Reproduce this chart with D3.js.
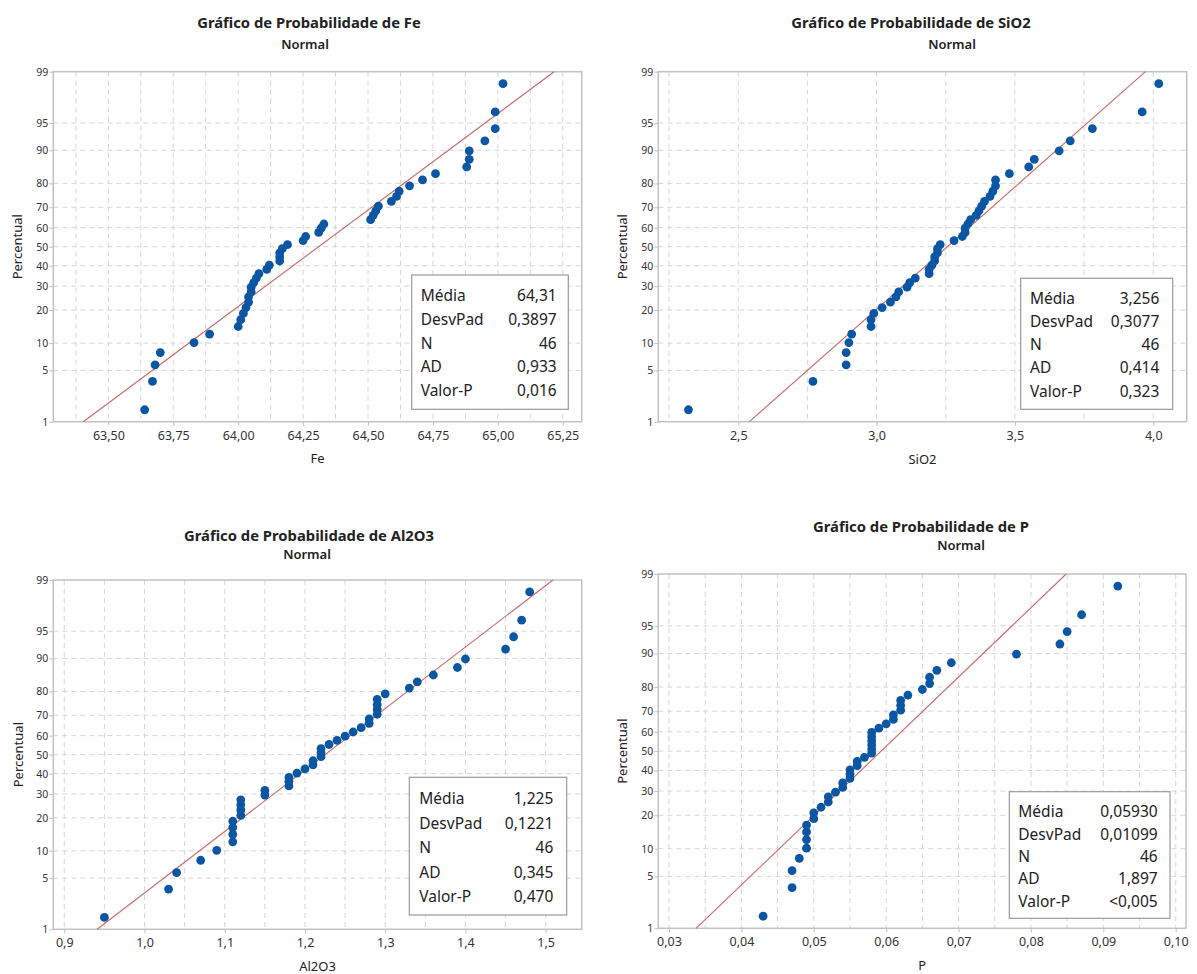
<!DOCTYPE html>
<html>
<head>
<meta charset="utf-8">
<script src="https://cdn.jsdelivr.net/npm/d3@7"></script>
<style>
  body { margin: 0; background: #fff; }
  svg { display: block; font-family: "Noto Sans", "Open Sans", sans-serif; }
</style>
</head>
<body>
<svg id="chart" width="1197" height="974"></svg>
<script>
// percent ticks of the normal probability axis
const pctTicks = [1, 5, 10, 20, 30, 40, 50, 60, 70, 80, 90, 95, 99];

const feValues = [63.64, 63.67, 63.68, 63.70, 63.83, 63.89, 64.00, 64.01, 64.02, 64.03,
  64.04, 64.04, 64.05, 64.05, 64.06, 64.07, 64.08, 64.11, 64.12, 64.16,
  64.16, 64.16, 64.17, 64.19, 64.25, 64.26, 64.31, 64.32, 64.33, 64.51,
  64.52, 64.53, 64.54, 64.59, 64.61, 64.62, 64.66, 64.71, 64.76, 64.88,
  64.89, 64.89, 64.95, 64.99, 64.99, 65.02];
const sio2Values = [2.32, 2.77, 2.89, 2.89, 2.90, 2.91, 2.98, 2.98, 2.99, 3.02,
  3.05, 3.07, 3.08, 3.11, 3.12, 3.14, 3.19, 3.19, 3.20, 3.21,
  3.21, 3.22, 3.22, 3.23, 3.28, 3.31, 3.32, 3.32, 3.33, 3.34,
  3.36, 3.37, 3.38, 3.39, 3.41, 3.42, 3.43, 3.43, 3.48, 3.55,
  3.57, 3.66, 3.70, 3.78, 3.96, 4.02];
const al2o3Values = [0.95, 1.03, 1.04, 1.07, 1.09, 1.11, 1.11, 1.11, 1.11, 1.12,
  1.12, 1.12, 1.12, 1.15, 1.15, 1.18, 1.18, 1.18, 1.19, 1.20,
  1.21, 1.21, 1.22, 1.22, 1.22, 1.23, 1.24, 1.25, 1.26, 1.27,
  1.28, 1.28, 1.29, 1.29, 1.29, 1.29, 1.30, 1.33, 1.34, 1.36,
  1.39, 1.40, 1.45, 1.46, 1.47, 1.48];
const pValues = [0.043, 0.047, 0.047, 0.048, 0.049, 0.049, 0.049, 0.049, 0.050, 0.050,
  0.051, 0.052, 0.052, 0.053, 0.054, 0.054, 0.055, 0.055, 0.055, 0.056,
  0.056, 0.057, 0.058, 0.058, 0.058, 0.058, 0.058, 0.058, 0.059, 0.060,
  0.061, 0.061, 0.062, 0.062, 0.062, 0.063, 0.065, 0.066, 0.066, 0.067,
  0.069, 0.078, 0.084, 0.085, 0.087, 0.092];

// fitted normal (Média, DesvPad)
const fitMeans = [64.31, 3.256, 1.225, 0.05930];
const fitSds = [0.3897, 0.3077, 0.1221, 0.01099];

// x axes
const feTicks = [63.5, 63.75, 64.0, 64.25, 64.5, 64.75, 65.0, 65.25];
const sio2Ticks = [2.5, 3.0, 3.5, 4.0];
const al2o3Ticks = [0.9, 1.0, 1.1, 1.2, 1.3, 1.4, 1.5];
const pTicks = [0.03, 0.04, 0.05, 0.06, 0.07, 0.08, 0.09, 0.10];
const xDomains = [[63.288, 65.323], [2.211, 4.121], [0.8863, 1.5449], [0.02852, 0.10142]];
const tickDecimals = [2, 1, 1, 2];

// legend tables
const statLabels = ["Média", "DesvPad", "N", "AD", "Valor-P"];
const feStats = ["64,31", "0,3897", "46", "0,933", "0,016"];
const sio2Stats = ["3,256", "0,3077", "46", "0,414", "0,323"];
const al2o3Stats = ["1,225", "0,1221", "46", "0,345", "0,470"];
const pStats = ["0,05930", "0,01099", "46", "1,897", "<0,005"];

const variables = ["Fe", "SiO2", "Al2O3", "P"];

// inverse standard normal CDF (Acklam)
function qnorm(p) {
  const a = [-3.969683028665376e+01, 2.209460984245205e+02, -2.759285104469687e+02,
    1.383577518672690e+02, -3.066479806614716e+01, 2.506628277459239e+00];
  const b = [-5.447609879822406e+01, 1.615858368580409e+02, -1.556989798598866e+02,
    6.680131188771972e+01, -1.328068155288572e+01];
  const c = [-7.784894002430293e-03, -3.223964580411365e-01, -2.400758277161838e+00,
    -2.549732539343734e+00, 4.374664141464968e+00, 2.938163982698783e+00];
  const d = [7.784695709041462e-03, 3.224671290700398e-01, 2.445134137142996e+00,
    3.754408661907416e+00];
  const plow = 0.02425;
  let q, r;
  if (p < plow) {
    q = Math.sqrt(-2 * Math.log(p));
    return (((((c[0] * q + c[1]) * q + c[2]) * q + c[3]) * q + c[4]) * q + c[5]) /
      ((((d[0] * q + d[1]) * q + d[2]) * q + d[3]) * q + 1);
  }
  if (p > 1 - plow) {
    return -qnorm(1 - p);
  }
  q = p - 0.5;
  r = q * q;
  return (((((a[0] * r + a[1]) * r + a[2]) * r + a[3]) * r + a[4]) * r + a[5]) * q /
    (((((b[0] * r + b[1]) * r + b[2]) * r + b[3]) * r + b[4]) * r + 1);
}

const panels = [
  { values: feValues, ticks: feTicks, stats: feStats,
    frame: { x0: 53.3, y0: 71.7, x1: 581.7, y1: 421.7 },
    title: [309, 28], sub: [305, 49], xLabelY: 463, yLabelX: 18.5,
    box: { x0: 411.7, y0: 275, x1: 568.3, y1: 409.3, row0: 297.3, step: 23.6, lx: 420.7, vx: 556.7 } },
  { values: sio2Values, ticks: sio2Ticks, stats: sio2Stats,
    frame: { x0: 658.3, y0: 71.7, x1: 1186.7, y1: 421.7 },
    title: [911, 28], sub: [952, 49], xLabelY: 464, yLabelX: 623.5,
    box: { x0: 1020.7, y0: 278.3, x1: 1172.7, y1: 409.3, row0: 300, step: 23.1, lx: 1030, vx: 1159.3 } },
  { values: al2o3Values, ticks: al2o3Ticks, stats: al2o3Stats,
    frame: { x0: 53.3, y0: 580, x1: 581.7, y1: 929.3 },
    title: [309, 541], sub: [307, 559], xLabelY: 971, yLabelX: 19.5,
    box: { x0: 409.3, y0: 777.3, x1: 566.7, y1: 915, row0: 800, step: 24.5, lx: 419.3, vx: 553.3 } },
  { values: pValues, ticks: pTicks, stats: pStats,
    frame: { x0: 658.3, y0: 574, x1: 1186, y1: 928.3 },
    title: [921, 532], sub: [961, 550], xLabelY: 970, yLabelX: 623.5,
    box: { x0: 1009.3, y0: 791.7, x1: 1170, y1: 918.3, row0: 813.3, step: 22.3, lx: 1018.3, vx: 1157.7 } }
];

const svg = d3.select("#chart");
const gridColour = "#d6d6d6";
const frameColour = "#c2c2c2";
const pointColour = "#0b56a3";
const lineColour = "#c96a66";

panels.forEach((panel, k) => {
  const f = panel.frame;
  const g = svg.append("g").attr("class", "panel");
  const n = panel.values.length;

  const x = d3.scaleLinear().domain(xDomains[k]).range([f.x0, f.x1]);
  const y = d3.scaleLinear().domain([qnorm(0.01), qnorm(0.99)]).range([f.y1, f.y0]);

  // grid: half steps between labelled ticks
  const step = (panel.ticks[1] - panel.ticks[0]) / 2;
  const gridX = d3.range(panel.ticks[0] - step, xDomains[k][1], step)
    .filter((v) => v > xDomains[k][0] + 1e-9 && v < xDomains[k][1] - 1e-9);
  g.append("g")
    .selectAll("line")
    .data(gridX)
    .join("line")
    .attr("x1", (d) => x(d)).attr("x2", (d) => x(d))
    .attr("y1", f.y0).attr("y2", f.y1)
    .attr("stroke", gridColour).attr("stroke-dasharray", "5,4");
  g.append("g")
    .selectAll("line")
    .data(pctTicks.slice(1, -1))
    .join("line")
    .attr("x1", f.x0).attr("x2", f.x1)
    .attr("y1", (d) => y(qnorm(d / 100))).attr("y2", (d) => y(qnorm(d / 100)))
    .attr("stroke", gridColour).attr("stroke-dasharray", "5,4");

  // frame
  g.append("rect")
    .attr("x", f.x0).attr("y", f.y0)
    .attr("width", f.x1 - f.x0).attr("height", f.y1 - f.y0)
    .attr("fill", "none").attr("stroke", frameColour).attr("stroke-width", 1.5);

  // axes
  const fmt = (d) => d.toFixed(tickDecimals[k]).replace(".", ",");
  const xAxis = g.append("g")
    .attr("transform", `translate(0,${f.y1})`)
    .call(d3.axisBottom(x).tickValues(panel.ticks).tickSize(4).tickPadding(5).tickFormat(fmt));
  xAxis.select(".domain").remove();
  xAxis.selectAll("line").attr("stroke", frameColour);
  xAxis.selectAll("text").attr("font-size", 12.5).attr("fill", "#333")
    .attr("font-family", "Noto Sans, sans-serif");

  const yAxis = g.append("g")
    .attr("transform", `translate(${f.x0},0)`)
    .call(d3.axisLeft(y)
      .tickValues(pctTicks.map((p) => qnorm(p / 100)))
      .tickSize(4).tickPadding(1)
      .tickFormat((d, i) => pctTicks[i]));
  yAxis.select(".domain").remove();
  yAxis.selectAll("line").attr("stroke", frameColour);
  yAxis.selectAll("text").attr("font-size", 10.5).attr("fill", "#333")
    .attr("font-family", "Noto Sans, sans-serif");

  // fitted line, 1% .. 99%
  const fitPct = [0.01, 0.99];
  const fitLine = d3.line()
    .x((p) => x(fitMeans[k] + fitSds[k] * qnorm(p)))
    .y((p) => y(qnorm(p)));
  g.append("path")
    .datum(fitPct)
    .attr("d", fitLine)
    .attr("fill", "none").attr("stroke", lineColour).attr("stroke-width", 1.1);

  // points, median-rank plotting positions
  g.append("g")
    .selectAll("circle")
    .data(panel.values)
    .join("circle")
    .attr("cx", (d) => x(d))
    .attr("cy", (d, i) => y(qnorm((i + 1 - 0.3) / (n + 0.4))))
    .attr("r", 4.4)
    .attr("fill", pointColour);

  // titles
  g.append("text")
    .attr("x", panel.title[0]).attr("y", panel.title[1])
    .attr("text-anchor", "middle").attr("font-size", 14.8).attr("font-weight", 700)
    .attr("fill", "#222")
    .text(`Gráfico de Probabilidade de ${variables[k]}`);
  g.append("text")
    .attr("x", panel.sub[0]).attr("y", panel.sub[1])
    .attr("text-anchor", "middle").attr("font-size", 13).attr("font-weight", 600)
    .attr("fill", "#222")
    .text("Normal");

  // axis labels
  g.append("text")
    .attr("x", (f.x0 + f.x1) / 2).attr("y", panel.xLabelY)
    .attr("text-anchor", "middle").attr("font-size", 13).attr("fill", "#222")
    .text(variables[k]);
  g.append("text")
    .attr("transform", `translate(${panel.yLabelX},${(f.y0 + f.y1) / 2}) rotate(-90)`)
    .attr("text-anchor", "middle").attr("dominant-baseline", "middle")
    .attr("font-size", 13).attr("fill", "#222")
    .text("Percentual");

  // stats box
  const b = panel.box;
  g.append("rect")
    .attr("x", b.x0).attr("y", b.y0)
    .attr("width", b.x1 - b.x0).attr("height", b.y1 - b.y0)
    .attr("fill", "#fff").attr("stroke", "#9a9a9a").attr("stroke-width", 1.2);
  const rows = g.append("g")
    .selectAll("g")
    .data(statLabels)
    .join("g")
    .attr("transform", (d, i) => `translate(0,${b.row0 + i * b.step})`);
  rows.append("text")
    .attr("x", b.lx).attr("dominant-baseline", "middle")
    .attr("font-size", 15.5).attr("fill", "#222")
    .text((d) => d);
  rows.append("text")
    .attr("x", b.vx).attr("dominant-baseline", "middle").attr("text-anchor", "end")
    .attr("font-size", 15.5).attr("fill", "#222")
    .text((d, i) => panel.stats[i]);
});
</script>
</body>
</html>
